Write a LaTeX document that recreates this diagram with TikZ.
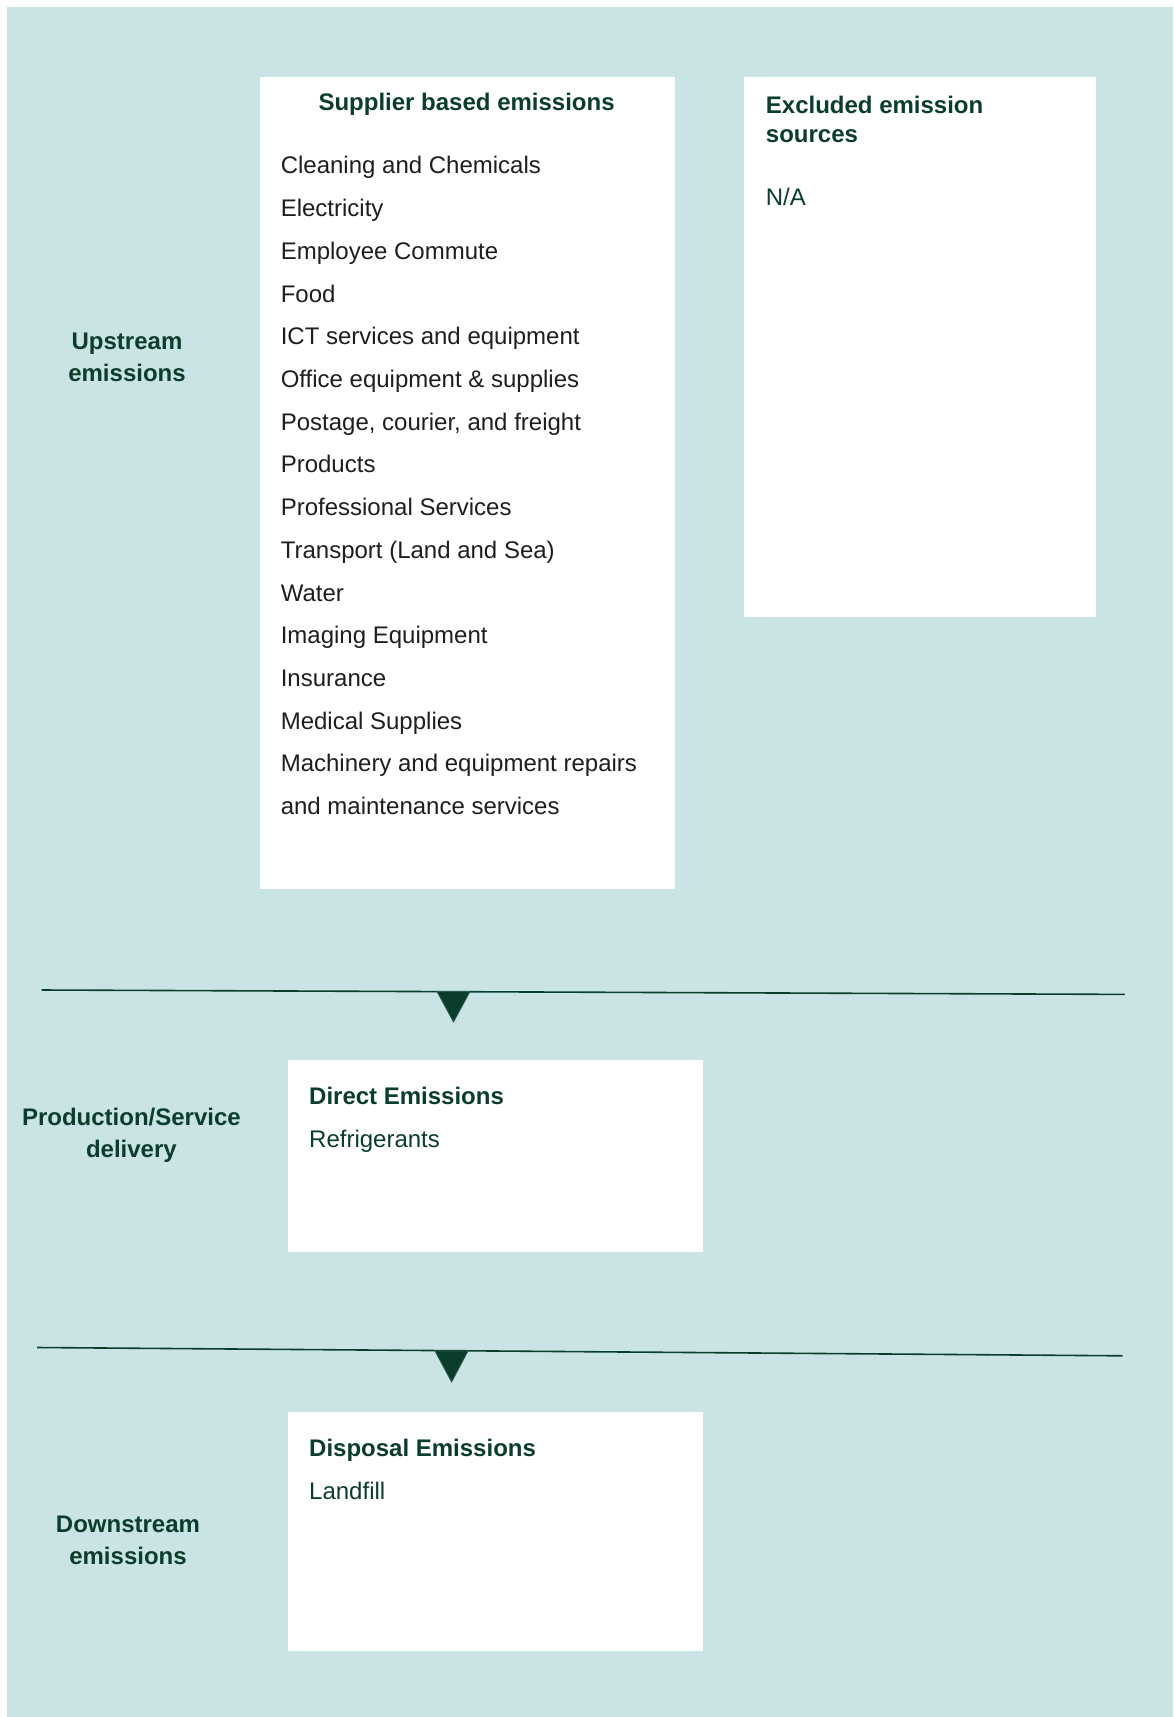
\documentclass[tikz,border=0pt]{standalone}
\usepackage{fontspec}
\setmainfont{Liberation Sans}
\definecolor{panelbg}{HTML}{CAE4E5}
\definecolor{darkgreen}{HTML}{0B3D2C}
\definecolor{itemgray}{HTML}{1E1E1E}
\tikzset{
  box/.style={fill=white},
  heading/.style={font=\fontsize{12}{14.3}\selectfont\bfseries, text=darkgreen, inner sep=0pt},
  item/.style={font=\fontsize{12}{14.3}\selectfont, text=itemgray, inner sep=0pt, anchor=base west},
  sidelabel/.style={font=\fontsize{12}{15.9}\selectfont\bfseries, text=darkgreen, align=center, inner sep=0pt, text depth=0pt},
  divider/.style={draw=darkgreen, line width=0.8pt},
  marker/.style={fill=darkgreen, draw=darkgreen!85, line width=0.4pt},
}

\begin{document}
\begin{tikzpicture}[x=0.5pt, y=-0.5pt]
            \useasboundingbox (0,0) rectangle (1173,1717);
            % Background and boxes
            \fill[panelbg] (7,7) rectangle (1173,1717);
            \fill[box] (259.6,76.7) rectangle (674.6,889.3);
            \fill[box] (743.6,76.7) rectangle (1096.3,616.6);
            \fill[box] (288,1060) rectangle (703,1251.8);
            \fill[box] (288,1411.7) rectangle (703,1650.5);

            % Side labels
            \node[sidelabel] (upstream) at (127,357.6) {Upstream\\emissions};
            \node[sidelabel] (production) at (131.4,1133) {Production/Service\\delivery};
            \node[sidelabel] (downstream) at (128,1540.4) {Downstream\\emissions};

            % Supplier based emissions
            \node[heading, anchor=base] (supplierhd) at (466.6,110.5) {Supplier based emissions};
            \foreach \txt [count=\i from 0] in {{Cleaning and Chemicals}, {Electricity}, {Employee Commute}, {Food},
                {ICT services and equipment}, {Office equipment \& supplies}, {Postage, courier, and freight},
                {Products}, {Professional Services}, {Transport (Land and Sea)}, {Water}, {Imaging Equipment},
                {Insurance}, {Medical Supplies}, {Machinery and equipment repairs}, {and maintenance services}}
                \node[item] (item\i) at (280.4,174+42.71*\i) {\txt};

            % Excluded emission sources
            \node[heading, align=left, anchor=west, text depth=0pt] (excludedhd) at (765.5,119.3) {Excluded emission\\sources};
            \node[item, text=darkgreen] (na) at (765.5,205.6) {N/A};

            % Direct and disposal emissions
            \node[heading, anchor=base west] (directhd) at (308.8,1104.9) {Direct Emissions};
            \node[item, text=darkgreen] (refrigerants) at (308.8,1147.6) {Refrigerants};
            \node[heading, anchor=base west] (disposalhd) at (308.8,1456.5) {Disposal Emissions};
            \node[item, text=darkgreen] (landfill) at (308.8,1499.2) {Landfill};

            % Dividers
            \coordinate (d1a) at (41.6,990);
            \coordinate (d1b) at (1124.8,994.4);
            \coordinate (d2a) at (37.2,1347.5);
            \coordinate (d2b) at (1122.6,1355.8);
            \draw[divider] (d1a) -- (d1b);
            \draw[divider] (d2a) -- (d2b);
            \filldraw[marker] (437,991.5) -- (470,991.5) -- (453.5,1022) -- cycle;
            \filldraw[marker] (435,1351) -- (468,1351) -- (451.6,1382) -- cycle;

        \end{tikzpicture}
\end{document}
